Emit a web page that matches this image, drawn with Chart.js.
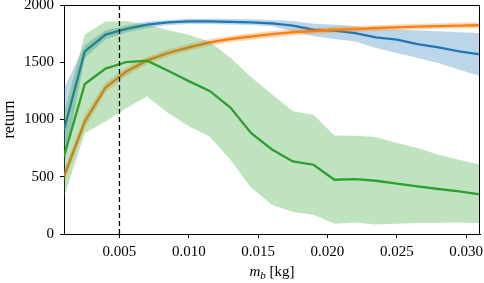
<!DOCTYPE html>
<html><head><meta charset="utf-8">
<script src="https://cdn.jsdelivr.net/npm/chart.js@4/dist/chart.umd.min.js"></script>
<style>html,body{margin:0;padding:0;background:#fff;}canvas{display:block;}</style>
</head><body>
<canvas id="c" width="484" height="283"></canvas>
<script>
const massKg = [0.001,0.0025,0.004,0.0055,0.007,0.0085,0.010,0.0115,0.013,0.0145,0.016,0.0175,0.019,0.0205,0.022,0.0235,0.025,0.0265,0.028,0.0295,0.031];
const blueMean  = [910,1595,1741,1791,1828,1848,1857,1857,1852,1848,1840,1819,1784,1776,1755,1717,1697,1659,1630,1595,1569];
const blueUpper = [1270,1650,1780,1820,1855,1870,1880,1880,1878,1875,1870,1860,1836,1828,1814,1790,1785,1778,1770,1762,1755];
const blueLower = [600,1540,1700,1760,1800,1825,1835,1835,1830,1825,1815,1770,1726,1703,1682,1624,1580,1537,1493,1435,1380];
const orangeMean  = [503,983,1280,1420,1516,1581,1630,1673,1703,1725,1745,1762,1773,1784,1790,1799,1805,1812,1816,1820,1823];
const orangeUpper = [560,1040,1320,1455,1548,1612,1660,1702,1732,1754,1773,1790,1800,1810,1816,1824,1830,1837,1841,1845,1848];
const orangeLower = [450,925,1240,1385,1484,1550,1600,1644,1674,1696,1717,1734,1746,1758,1764,1774,1780,1787,1791,1795,1798];
const greenMean  = [680,1310,1445,1502,1514,1425,1335,1250,1105,880,738,634,605,474,480,465,439,416,393,372,346];
const greenUpper = [1050,1742,1855,1857,1830,1780,1740,1680,1540,1370,1220,1071,1042,861,858,847,795,751,693,649,605];
const greenLower = [326,882,983,1100,1200,1057,940,852,649,404,256,192,169,90,101,84,90,95,98,100,96];
const xTicks = [0.005,0.010,0.015,0.020,0.025,0.030];
const xTickLabels = ['0.005','0.010','0.015','0.020','0.025','0.030'];
const yTicks = [0,500,1000,1500,2000];
const yTickLabels = ['0','500','1000','1500','2000'];
const markerX = 0.005;

const pts = arr => massKg.map((x,i)=>({x:x, y:arr[i]}));
const FONT = "'Liberation Serif','DejaVu Serif',serif";
Chart.defaults.font.family = FONT;
Chart.defaults.font.size = 15;
Chart.defaults.color = '#000';

function band(upper, lower, color, order){
  return [
    {data:pts(upper), fill:'+1', backgroundColor:color, borderWidth:0, pointRadius:0, tension:0, order:order},
    {data:pts(lower), fill:false, borderWidth:0, pointRadius:0, tension:0, order:order}
  ];
}
function line(mean, color, order){
  return {data:pts(mean), fill:false, borderColor:color, borderWidth:2.3, pointRadius:0, tension:0, order:order};
}
const datasets = [
  ...band(blueUpper, blueLower, 'rgba(31,119,180,0.3)', 8),
  line(blueMean, '#1f77b4', 7),
  ...band(orangeUpper, orangeLower, 'rgba(255,127,14,0.3)', 6),
  line(orangeMean, '#ff7f0e', 5),
  ...band(greenUpper, greenLower, 'rgba(44,160,44,0.3)', 4),
  line(greenMean, '#2ca02c', 3),
  {data:[{x:markerX,y:yTicks[0]},{x:markerX,y:yTicks[yTicks.length-1]}], borderColor:'#000', borderWidth:1.3, borderDash:[5,3], pointRadius:0, fill:false, order:1}
];

const framePlugin = {
  id:'frame',
  afterDraw(chart){
    const {ctx, chartArea:a} = chart;
    ctx.save();
    ctx.strokeStyle = '#000'; ctx.lineWidth = 1;
    ctx.beginPath();
    ctx.moveTo(Math.round(a.left), Math.round(a.top)+0.5);
    ctx.lineTo(Math.round(a.right), Math.round(a.top)+0.5);
    ctx.moveTo(Math.round(a.right)-0.5, Math.round(a.top));
    ctx.lineTo(Math.round(a.right)-0.5, Math.round(a.bottom)+1);
    ctx.stroke();
    // x-axis title with subscript
    const cx = (a.left + a.right)/2;
    const y = 276;
    const p1 = 'm', p2 = 'b', p3 = ' [kg]';
    ctx.fillStyle = '#000';
    ctx.textBaseline = 'alphabetic';
    ctx.font = "italic 15px " + FONT; const w1 = ctx.measureText(p1).width;
    ctx.font = "italic 11px " + FONT; const w2 = ctx.measureText(p2).width;
    ctx.font = "15px " + FONT; const w3 = ctx.measureText(p3).width;
    let x = cx - (w1+w2+w3)/2;
    ctx.textAlign = 'left';
    ctx.font = "italic 15px " + FONT; ctx.fillText(p1, x, y); x += w1;
    ctx.font = "italic 11px " + FONT; ctx.fillText(p2, x, y+3); x += w2;
    ctx.font = "15px " + FONT; ctx.fillText(p3, x, y);
    ctx.restore();
  }
};

new Chart(document.getElementById('c'), {
  type:'line',
  data:{datasets},
  options:{
    responsive:false, devicePixelRatio:1, animation:false,
    layout:{padding:{top:5,right:4,left:0,bottom:0}},
    plugins:{legend:{display:false}, tooltip:{enabled:false}},
    scales:{
      x:{type:'linear', min:0.001, max:0.031,
        afterBuildTicks:s=>{s.ticks = xTicks.map(v=>({value:v}));},
        afterFit:s=>{s.height = 49; s.paddingLeft = 0; s.paddingRight = 0;},
        ticks:{callback:(v,i)=>xTickLabels[i], autoSkip:false, maxRotation:0, padding:5, color:'#000', font:{size:15}},
        grid:{drawOnChartArea:false, drawTicks:true, tickLength:4, color:'#000'},
        border:{color:'#000', width:1}
      },
      y:{min:0, max:2000,
        afterBuildTicks:s=>{s.ticks = yTicks.map(v=>({value:v}));},
        afterFit:s=>{s.width = 64; s.paddingTop = 0; s.paddingBottom = 0;},
        ticks:{callback:(v,i)=>yTickLabels[i], autoSkip:false, padding:6, color:'#000', font:{size:15}},
        grid:{drawOnChartArea:false, drawTicks:true, tickLength:4, color:'#000'},
        border:{color:'#000', width:1},
        title:{display:true, text:'return', color:'#000', font:{size:16}, padding:{top:0,bottom:0}}
      }
    }
  },
  plugins:[framePlugin]
});
</script>
</body></html>
